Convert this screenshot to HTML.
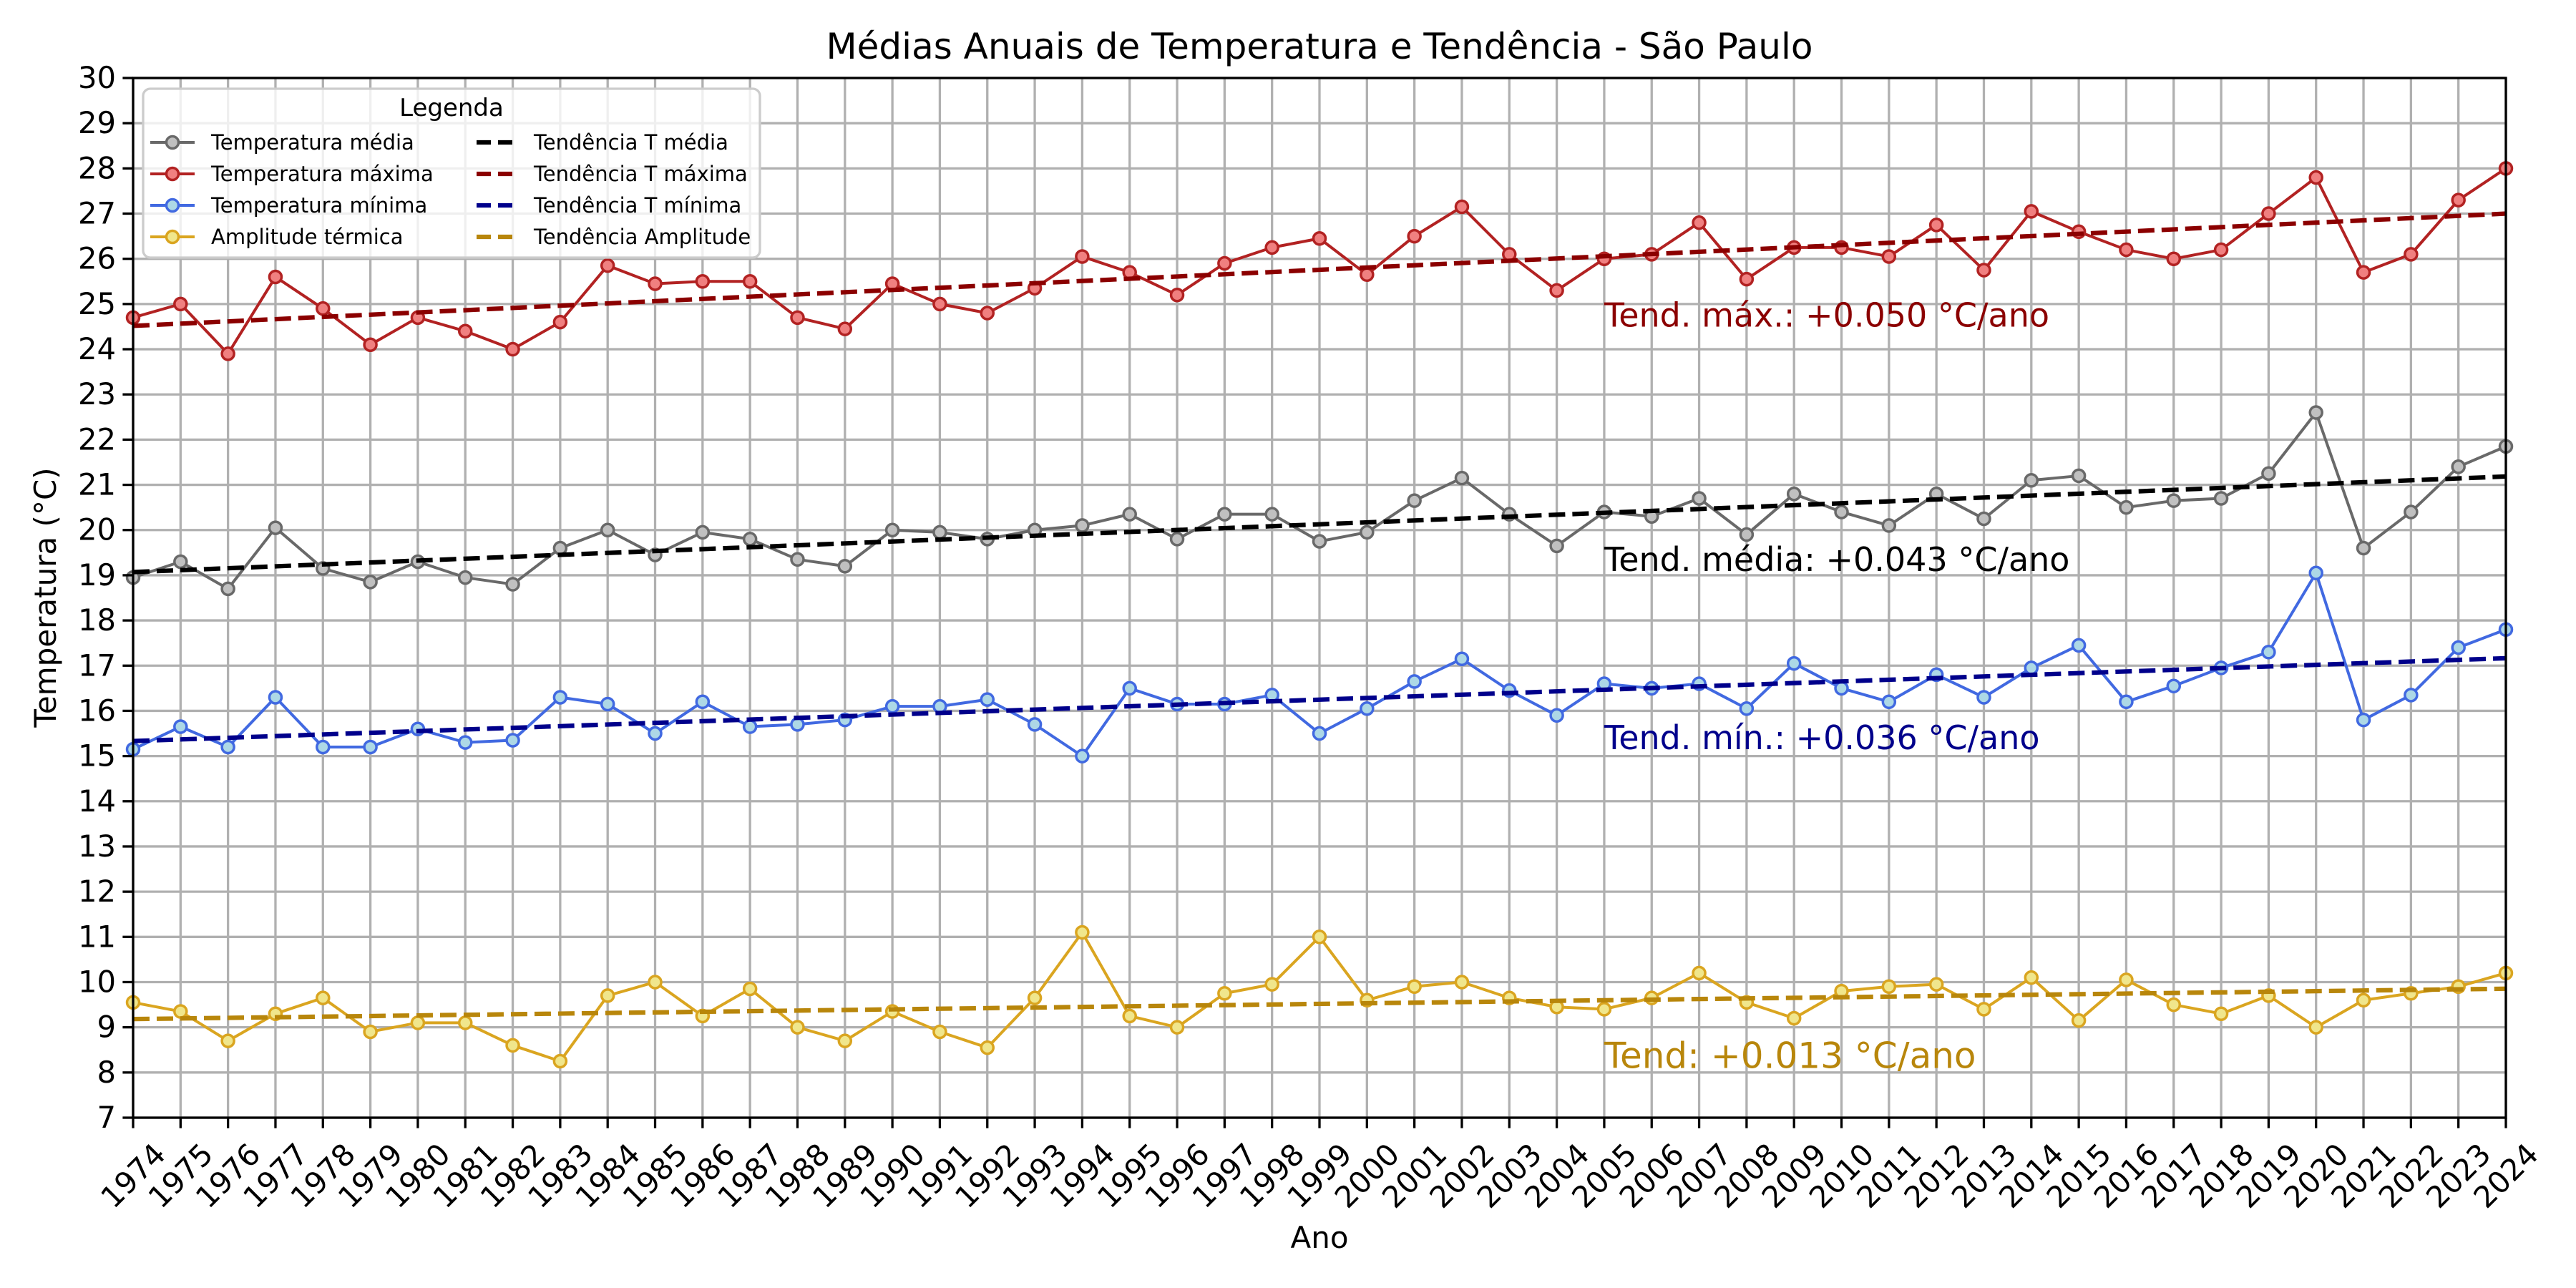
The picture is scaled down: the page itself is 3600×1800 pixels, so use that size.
<!DOCTYPE html>
<html><head><meta charset="utf-8"><style>
html,body{margin:0;padding:0;background:#fff;}
svg{display:block;font-family:"DejaVu Sans","Liberation Sans",sans-serif;}
</style></head><body>
<svg id="chart" width="3600" height="1800" viewBox="0 0 3600 1800" xmlns="http://www.w3.org/2000/svg">
<rect width="3600" height="1800" fill="#fff"/>
<text x="1844" y="82" font-size="50" text-anchor="middle">Médias Anuais de Temperatura e Tendência - São Paulo</text>
<g id="grid"></g>
<g id="series"></g>
<g id="axes"></g>
<g id="annot"></g>
<text transform="translate(78,835) rotate(-90)" font-size="42" text-anchor="middle">Temperatura (°C)</text>
<text x="1844" y="1744" font-size="42" text-anchor="middle">Ano</text>
<g id="legend"></g>
</svg>
<script>
const years = [];
for (let y = 1974; y <= 2024; y++) years.push(y);
const tMax = [24.7,25.0,23.9,25.6,24.9,24.1,24.7,24.4,24.0,24.6,25.85,25.45,25.5,25.5,24.7,24.45,25.45,25.0,24.8,25.35,26.05,25.7,25.2,25.9,26.25,26.45,25.65,26.5,27.15,26.1,25.3,26.0,26.1,26.8,25.55,26.25,26.25,26.05,26.75,25.75,27.05,26.6,26.2,26.0,26.2,27.0,27.8,25.7,26.1,27.3,28.0];
const tMean = [18.95,19.3,18.7,20.05,19.15,18.85,19.3,18.95,18.8,19.6,20.0,19.45,19.95,19.8,19.35,19.2,20.0,19.95,19.8,20.0,20.1,20.35,19.8,20.35,20.35,19.75,19.95,20.65,21.15,20.35,19.65,20.4,20.3,20.7,19.9,20.8,20.4,20.1,20.8,20.25,21.1,21.2,20.5,20.65,20.7,21.25,22.6,19.6,20.4,21.4,21.85];
const tMin = [15.15,15.65,15.2,16.3,15.2,15.2,15.6,15.3,15.35,16.3,16.15,15.5,16.2,15.65,15.7,15.8,16.1,16.1,16.25,15.7,15.0,16.5,16.15,16.15,16.35,15.5,16.05,16.65,17.15,16.45,15.9,16.6,16.5,16.6,16.05,17.05,16.5,16.2,16.8,16.3,16.95,17.45,16.2,16.55,16.95,17.3,19.05,15.8,16.35,17.4,17.8];
const tAmp = [9.55,9.35,8.7,9.3,9.65,8.9,9.1,9.1,8.6,8.25,9.7,10.0,9.25,9.85,9.0,8.7,9.35,8.9,8.55,9.65,11.1,9.25,9.0,9.75,9.95,11.0,9.6,9.9,10.0,9.65,9.45,9.4,9.65,10.2,9.55,9.2,9.8,9.9,9.95,9.4,10.1,9.15,10.05,9.5,9.3,9.7,9.0,9.6,9.75,9.9,10.2];
const yTicks = [7,8,9,10,11,12,13,14,15,16,17,18,19,20,21,22,23,24,25,26,27,28,29,30];
const annLabels = ["Tend. máx.: +0.050 °C/ano","Tend. média: +0.043 °C/ano","Tend. mín.: +0.036 °C/ano","Tend: +0.013 °C/ano"];
const annY = [24.5, 19.09, 15.15, 8.1];
const annYear = 2005;

const L=186,R=3502,T=109,B=1562;
const X = v => L + (v-1974)/(2024-1974)*(R-L);
const Y = v => B - (v-7)/(30-7)*(B-T);
const NS="http://www.w3.org/2000/svg";
function mk(tag, parent, attrs){const e=document.createElementNS(NS,tag);for(const k in attrs)e.setAttribute(k,attrs[k]);parent.appendChild(e);return e;}
const grid=document.getElementById('grid'), ser=document.getElementById('series'), axes=document.getElementById('axes'), ann=document.getElementById('annot'), leg=document.getElementById('legend');

years.forEach(y=>{const l=mk('line',grid,{x1:X(y),x2:X(y),y1:T,y2:B,stroke:'#b0b0b0','stroke-width':3.3});

});
yTicks.forEach(v=>{const l=mk('line',grid,{x1:L,x2:R,y1:Y(v),y2:Y(v),stroke:'#b0b0b0','stroke-width':3.3});

});

function fit(vals){const n=years.length;let mx=0,my=0;for(let i=0;i<n;i++){mx+=years[i];my+=vals[i];}mx/=n;my/=n;let sxy=0,sxx=0;for(let i=0;i<n;i++){sxy+=(years[i]-mx)*(vals[i]-my);sxx+=(years[i]-mx)**2;}const b=sxy/sxx;return [my+b*(1974-mx),my+b*(2024-mx)];}

const defs=[
 {vals:tMax,line:'#b22222',fill:'#f08080',trend:'#8b0000',name:'max'},
 {vals:tMean,line:'#696969',fill:'#c0c0c0',trend:'#000000',name:'mean'},
 {vals:tMin,line:'#4169e1',fill:'#add8e6',trend:'#00008b',name:'min'},
 {vals:tAmp,line:'#daa520',fill:'#f0e68c',trend:'#b8860b',name:'amplitude'}];
defs.forEach(d=>{
 const g=mk('g',ser,{});
 
 
 const pts=d.vals.map((v,i)=>X(years[i])+','+Y(v)).join(' ');
 const pl=mk('polyline',g,{points:pts,fill:'none',stroke:d.line,'stroke-width':4,'stroke-linejoin':'round'});
 
 
 d.vals.forEach((v,i)=>{const c=mk('circle',g,{cx:X(years[i]),cy:Y(v),r:8.5,fill:d.fill,stroke:d.line,'stroke-width':3.5});
 
 });
});
defs.forEach(d=>{const f=fit(d.vals);
 const t=mk('line',ser,{x1:X(1974),x2:X(2024),y1:Y(f[0]),y2:Y(f[1]),stroke:d.trend,'stroke-width':6.25,'stroke-dasharray':'23 10'});
 
 });

const annColors=['#8b0000','#000000','#00008b','#b8860b'];
const annSizes=[46,46,46,50];
annLabels.forEach((s,i)=>{const t=mk('text',ann,{x:X(annYear),y:Y(annY[i]),'font-size':annSizes[i],fill:annColors[i]});t.textContent=s;
 
 });

const sp=mk('rect',axes,{x:L,y:T,width:R-L,height:B-T,fill:'none',stroke:'#000','stroke-width':3.3});


yTicks.forEach(v=>{mk('line',axes,{x1:L-14.6,x2:L,y1:Y(v),y2:Y(v),stroke:'#000','stroke-width':3.3});
 const t=mk('text',axes,{x:L-24,y:Y(v)+14,'font-size':41.7,'text-anchor':'end'});t.textContent=v;
 
 });
years.forEach(y=>{mk('line',axes,{x1:X(y),x2:X(y),y1:B,y2:B+14.6,stroke:'#000','stroke-width':3.3});
 const t=mk('text',axes,{x:0,y:0,'font-size':41.7,'text-anchor':'middle','dominant-baseline':'central',transform:`translate(${X(y)},1643) rotate(-45)`});t.textContent=y;
 
 });

// legend
const fr=mk('rect',leg,{x:200,y:124,width:862,height:236,rx:10,fill:'#fff','fill-opacity':0.8,stroke:'#cccccc','stroke-width':3.3});


const lt=mk('text',leg,{x:631,y:162,'font-size':34,'text-anchor':'middle'});lt.textContent='Legenda';


const leftNames=['Temperatura média','Temperatura máxima','Temperatura mínima','Amplitude térmica'];
const rightNames=['Tendência T média','Tendência T máxima','Tendência T mínima','Tendência Amplitude'];
const order=[1,0,2,3];
order.forEach((di,i)=>{const d=defs[di];const yy=199+i*44;
 const g=mk('g',leg,{});
 
 
 mk('line',g,{x1:210,x2:272,y1:yy,y2:yy,stroke:d.line,'stroke-width':4});
 mk('circle',g,{cx:241,cy:yy,r:8.5,fill:d.fill,stroke:d.line,'stroke-width':3.5});
 const t=mk('text',g,{x:295,y:yy+10,'font-size':29});t.textContent=leftNames[i];
 const g2=mk('g',leg,{});
 
 
 mk('line',g2,{x1:666,x2:722,y1:yy,y2:yy,stroke:d.trend,'stroke-width':6.25,'stroke-dasharray':'20 10'});
 const t2=mk('text',g2,{x:746,y:yy+10,'font-size':29});t2.textContent=rightNames[i];
});
</script>
</body></html>
